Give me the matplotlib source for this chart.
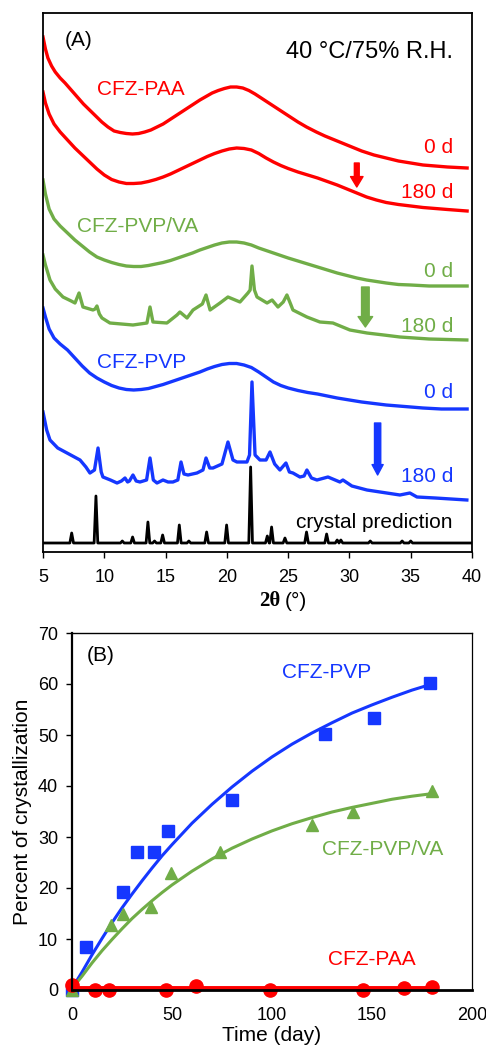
import numpy as np
import matplotlib.pyplot as plt

plt.rcParams['font.family'] = ['Liberation Sans', 'DejaVu Sans']

RED = "#FF0000"
GREEN = "#70AD47"
BLUE = "#1537FF"

# ---- panel A: XRD patterns (intensity in arbitrary units, offset stacked) ----
paa0_x = [5.0, 5.2, 5.4, 5.7, 6.0, 6.4, 6.8, 7.3, 7.8, 8.3, 8.8, 9.3, 9.8, 10.3, 10.8, 11.3, 11.8,
          12.3, 12.8, 13.3, 13.8, 14.3, 14.8, 15.3, 15.8, 16.3, 16.8, 17.3, 17.8, 18.3, 18.8, 19.3,
          19.8, 20.3, 20.8, 21.3, 21.8, 22.3, 22.8, 23.3, 23.8, 24.3, 24.8, 25.3, 25.8, 26.5, 27.3,
          28.0, 29.0, 30.0, 31.0, 32.0, 33.0, 34.0, 35.0, 36.0, 37.0, 38.0, 39.6]
paa0_y = [515, 503, 494, 486, 480, 474, 469, 462, 455, 448, 442, 436, 430, 425, 421, 419.5, 418.5,
          418, 418.5, 420, 422, 425, 428, 432, 436, 440, 444, 448, 452, 455.5, 459, 461.5,
          463.5, 465, 465, 464, 461.5, 458, 454, 450, 446, 442, 438, 434, 430, 425, 420,
          416, 411, 406, 401, 397, 394, 391, 389, 387, 386, 385, 384]

paa180_x = [5.0, 5.2, 5.5, 5.9, 6.4, 7.0, 7.6, 8.2, 8.8, 9.4, 10.0, 10.6, 11.2, 11.8, 12.4, 13.0,
            13.6, 14.2, 14.8, 15.4, 16.0, 16.6, 17.2, 17.8, 18.4, 19.0, 19.6, 20.2, 20.8, 21.4,
            22.0, 22.6, 23.2, 23.8, 24.4, 25.0, 25.8, 26.6, 27.4, 28.2, 29.0, 29.8, 30.6, 31.4,
            32.2, 33.0, 34.0, 35.0, 36.0, 37.0, 38.0, 39.6]
paa180_y = [460, 449, 438, 428, 420, 412, 404, 397, 390, 383, 377, 372.5, 370, 368.5, 368.5, 369,
            370.5, 372.5, 375, 378, 381.5, 385, 388.5, 392, 395.5, 398.5, 401, 403, 404, 403.5,
            402, 398.5, 394, 390, 386.5, 383.5, 380, 377, 374, 370.5, 367, 363, 359, 355,
            352, 349.5, 347.5, 346, 344.5, 343.5, 342.5, 341]

pvpva0_x = [5.0, 5.2, 5.5, 5.9, 6.4, 7.0, 7.6, 8.2, 8.8, 9.4, 10.0, 10.6, 11.2, 11.8, 12.4, 13.0,
            13.6, 14.2, 14.8, 15.4, 16.0, 16.6, 17.2, 17.8, 18.4, 19.0, 19.6, 20.2, 20.8, 21.4,
            22.0, 22.6, 23.2, 23.8, 24.4, 25.0, 25.8, 26.6, 27.4, 28.2, 29.0, 29.8, 30.6, 31.4,
            32.2, 33.0, 34.0, 35.0, 36.5, 39.6]
pvpva0_y = [372, 358, 343, 333, 326, 319, 312, 306, 300, 295, 292, 289.5, 287.5, 286, 285.5, 285.5,
            286.5, 288, 289.5, 291.5, 294, 296.5, 299, 302, 304.5, 307, 309, 310, 310, 309,
            307, 304, 301.5, 299, 296.5, 294, 291, 288, 285, 282, 279, 276.5, 274, 272,
            270.5, 269, 267.5, 267, 266, 266]

pvpva180_x = [5.0, 5.2, 5.57, 6.0, 6.63, 7.3, 7.61, 7.94, 8.26, 9.08, 9.25, 9.40, 9.6, 9.81, 10.46,
              11.4, 12.34, 13.48, 13.73, 13.97, 15.11, 15.93, 16.17, 16.75, 17.24, 18.0, 18.30,
              18.63, 19.44, 20.09, 21.07, 21.72, 21.9, 22.05, 22.25, 22.46, 23.28, 23.69, 24.17,
              24.6, 24.90, 25.2, 25.39, 26.53, 27.59, 28.65, 30.04, 31.43, 32.8, 34.12, 36.5, 39.58]
pvpva180_y = [297, 287, 272, 263, 255, 251, 249, 259, 245, 242, 243, 246, 238, 234, 229,
              228, 227, 229, 245, 230, 229, 237, 240, 234, 242, 248, 257,
              242, 249, 255, 250, 259, 262, 286, 262, 255, 249, 252, 245,
              250, 257, 248, 242, 235, 230, 229, 222, 219, 217, 215, 213, 212]

pvp0_x = [5.0, 5.2, 5.5, 5.9, 6.4, 7.0, 7.6, 8.2, 8.8, 9.4, 10.0, 10.6, 11.2, 11.8, 12.4, 13.0,
          13.6, 14.2, 14.8, 15.4, 16.0, 16.6, 17.2, 17.8, 18.4, 19.0, 19.6, 20.2, 20.8, 21.4,
          22.0, 22.6, 23.2, 23.8, 24.4, 25.0, 25.8, 26.6, 27.4, 28.2, 29.0, 30.0, 31.0, 32.0,
          33.0, 34.0, 35.0, 36.0, 37.5, 39.6]
pvp0_y = [244, 235, 223, 214, 208, 202, 194, 186, 179, 174, 170, 166.5, 164, 162.5, 162, 162.5,
          163.5, 165.5, 167.5, 170, 172.5, 175, 177.5, 180, 183, 185.5, 187.5, 188.5, 188.5, 187,
          184.5, 180, 175, 170, 166.5, 164, 161.5, 159.5, 158, 156, 154, 152, 150, 148.5,
          147, 146, 145, 144, 143, 143]

pvp180_x = [5.0, 5.3, 5.57, 6.2, 6.96, 8.02, 8.5, 8.83, 9.2, 9.49, 9.75, 9.89, 10.5, 11.04, 11.4,
            11.69, 11.9, 12.05, 12.34, 12.6, 12.91, 13.45, 13.73, 14.0, 14.30, 14.79, 15.2, 15.60,
            16.0, 16.26, 16.5, 16.83, 17.56, 18.05, 18.30, 18.6, 18.87, 19.6, 20.09, 20.5, 20.82,
            21.64, 21.85, 22.05, 22.3, 22.70, 23.2, 23.52, 23.9, 24.33, 24.82, 25.1, 25.39, 25.96,
            26.3, 26.53, 26.9, 27.35, 28.25, 29.22, 29.47, 30.2, 31.43, 32.5, 34.12, 34.93, 35.51,
            37.0, 39.58]
pvp180_y = [140, 122, 112, 104, 99, 92, 85, 79, 82, 104, 80, 75, 72, 69, 71,
            74, 70, 71, 77, 71, 70, 72, 94, 72, 69, 72, 70, 70,
            72, 90, 78, 77, 79, 82, 94, 84, 84, 88, 110, 92, 90,
            90, 97, 170, 97, 92, 92, 100, 88, 82, 89, 80, 79, 75,
            76, 82, 74, 72, 75, 70, 72, 66, 62, 60, 57, 59, 55,
            54, 52]

# simulated pattern: peak positions and heights above the baseline
cryst_base = 9
cryst_pos = [7.34, 9.32, 11.47, 12.31, 13.56, 14.1, 14.76, 16.12, 16.9, 18.35, 19.98, 21.94,
             23.3, 23.65, 24.74, 26.5, 28.14, 29.0, 29.3, 31.7, 34.3, 35.0]
cryst_h = [10, 47, 2, 6, 21, 2, 8, 18, 2, 11, 18, 76,
           7, 16, 5, 11, 9, 3, 3, 2, 2, 2]

# ---- panel B: percent crystallization vs time ----
pvp_t = [0, 7, 25.7, 32.3, 41, 48.2, 80, 126.5, 151.2, 179]
pvp_pc = [0, 8.4, 19.3, 27.1, 27.1, 31.2, 37.3, 50.2, 53.3, 60.2]
pvpva_t = [0, 19.5, 25.7, 39.3, 49.3, 74, 120, 140.5, 180]
pvpva_pc = [0, 12.7, 15.0, 16.3, 23.0, 27.1, 32.4, 35.0, 39.0]
paa_t = [0, 11.5, 18.5, 47, 61.8, 99, 145.3, 166, 180]
paa_pc = [1.0, 0, 0, 0, 0.7, 0, 0, 0.4, 0.6]

# fitted trend lines
fit_t = [0, 5, 10, 15, 20, 25, 30, 35, 40, 45, 50, 60, 70, 80, 90, 100, 110, 120, 130, 140,
         150, 160, 170, 180]
pvp_fit = [0.3, 3.5, 6.9, 10.1, 13.2, 16.1, 18.8, 21.4, 23.9, 26.3, 28.5, 32.7, 36.4, 39.8,
           42.9, 45.7, 48.2, 50.4, 52.4, 54.3, 55.9, 57.4, 58.8, 60.0]
pvpva_fit = [0.3, 2.7, 5.3, 7.7, 9.9, 12.0, 14.0, 15.8, 17.5, 19.1, 20.6, 23.3, 25.7, 27.8,
             29.6, 31.2, 32.6, 33.8, 34.9, 35.8, 36.6, 37.4, 38.0, 38.5]
paa_fit_t = [0, 180]
paa_fit = [0.3, 0.3]

W, H = 486, 1049
fig = plt.figure(figsize=(W / 100, H / 100), dpi=100)

# panel A
axA = fig.add_axes([43 / W, 1 - 552 / H, 429 / W, 539 / H])
lw = 2.4
axA.plot(paa0_x, paa0_y, color=RED, lw=lw)
axA.plot(paa180_x, paa180_y, color=RED, lw=lw)
axA.plot(pvpva0_x, pvpva0_y, color=GREEN, lw=lw)
axA.plot(pvpva180_x, pvpva180_y, color=GREEN, lw=lw)
axA.plot(pvp0_x, pvp0_y, color=BLUE, lw=lw)
axA.plot(pvp180_x, pvp180_y, color=BLUE, lw=lw)

cx, cy = [5.0], [cryst_base]
for p, h in zip(cryst_pos, cryst_h):
    cx += [p - 0.15, p, p + 0.15]
    cy += [cryst_base, cryst_base + h, cryst_base]
cx.append(40.0)
cy.append(cryst_base)
axA.plot(cx, cy, color="black", lw=2.0)

axA.set_xlim(5, 40)
axA.set_ylim(0, 539)
axA.set_xticks(range(5, 41, 5))
axA.set_yticks([])
axA.tick_params(axis='x', direction='out', length=4.3, width=1.0, labelsize=13, pad=8)
for s in axA.spines.values():
    s.set_linewidth(1.3)

fs = 15
axA.text(6.8, 506, "(A)", fontsize=fs)
axA.text(38.44, 494, "40 °C/75% R.H.", fontsize=17, ha='right')
axA.text(9.4, 457, "CFZ-PAA", color=RED, fontsize=fs)
axA.text(38.44, 399, "0 d", color=RED, fontsize=fs, ha='right')
axA.text(38.44, 354, "180 d", color=RED, fontsize=fs, ha='right')
axA.text(7.77, 320, "CFZ-PVP/VA", color=GREEN, fontsize=fs)
axA.text(38.44, 275, "0 d", color=GREEN, fontsize=fs, ha='right')
axA.text(38.44, 220, "180 d", color=GREEN, fontsize=fs, ha='right')
axA.text(9.4, 184, "CFZ-PVP", color=BLUE, fontsize=fs)
axA.text(38.44, 154, "0 d", color=BLUE, fontsize=fs, ha='right')
axA.text(38.44, 70, "180 d", color=BLUE, fontsize=fs, ha='right')
axA.text(38.44, 24, "crystal prediction", color="black", fontsize=fs, ha='right')

for x0, y0, y1, col, tw, hw in [(30.6, 389, 365, RED, 0.35, 0.9),
                                (31.3, 265, 225, GREEN, 0.55, 1.05),
                                (32.3, 129, 77, BLUE, 0.45, 0.8)]:
    axA.annotate("", xy=(x0, y1), xytext=(x0, y0),
                 arrowprops=dict(arrowstyle=f"simple,head_length=0.75,head_width={hw},tail_width={tw}",
                                 color=col, shrinkA=0, shrinkB=0, mutation_scale=10))

fig.text(259 / W, 1 - 601 / H, "2θ", fontsize=15, fontweight='bold', family='Liberation Serif',
         ha='left', va='center')
fig.text(285 / W, 1 - 601 / H, "(°)", fontsize=15, ha='left', va='center')

# panel B
axB = fig.add_axes([72 / W, 1 - 990 / H, 400 / W, 357 / H])
axB.plot(fit_t, pvp_fit, color=BLUE, lw=2.2)
axB.plot(pvp_t, pvp_pc, 's', color=BLUE, ms=9.2, clip_on=False)
axB.plot(fit_t, pvpva_fit, color=GREEN, lw=2.2)
axB.plot(pvpva_t, pvpva_pc, '^', color=GREEN, ms=8.5, clip_on=False)
axB.plot(paa_fit_t, paa_fit, color=RED, lw=2.8, clip_on=False)
axB.plot(paa_t, paa_pc, 'o', color=RED, ms=9.5, clip_on=False)

axB.set_xlim(0, 200)
axB.set_ylim(0, 70)
axB.set_xticks(range(0, 201, 50))
axB.set_yticks(range(0, 71, 10))
axB.tick_params(axis='y', direction='out', length=4, width=1.0, labelsize=13, pad=6)
axB.tick_params(axis='x', length=0, labelsize=13, pad=12)
axB.spines['left'].set_linewidth(1.6)
axB.spines['bottom'].set_linewidth(2.0)
axB.spines['top'].set_linewidth(1.0)
axB.spines['right'].set_linewidth(0.9)
axB.set_xlabel("Time (day)", fontsize=15, labelpad=2)
axB.set_ylabel("Percent of crystallization", fontsize=15, labelpad=4)

axB.text(7.5, 64.5, "(B)", fontsize=15)
axB.text(127.5, 62.2, "CFZ-PVP", color=BLUE, fontsize=15, ha='center', va='center')
axB.text(155.5, 27.5, "CFZ-PVP/VA", color=GREEN, fontsize=15, ha='center', va='center')
axB.text(150, 5.9, "CFZ-PAA", color=RED, fontsize=15, ha='center', va='center')

fig.savefig("out.png", dpi=100)
